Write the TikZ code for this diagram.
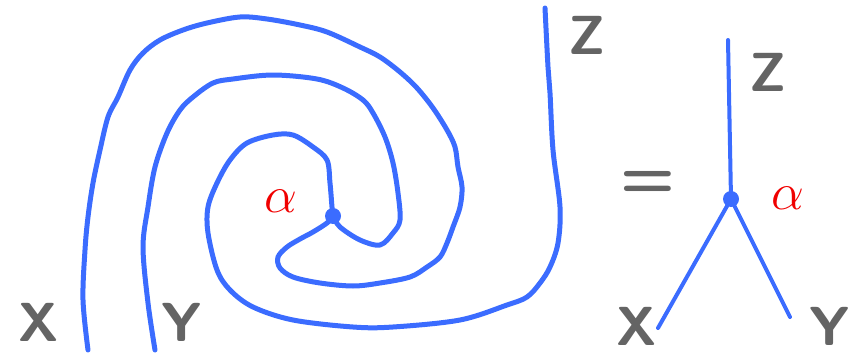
\documentclass[tikz,border=0pt]{standalone}
\usepackage{amsmath}
\usepackage{graphicx}
\usepackage{tikz}
\usepackage{xcolor}
\usetikzlibrary{calc}

\definecolor{strandblue}{RGB}{59,108,255}
\definecolor{penGray}{RGB}{100,100,100}
\definecolor{penRed}{RGB}{240,0,0}

\newcommand{\bigalpha}{\scalebox{2.1}{\Huge$\alpha$}}

\tikzset{
  strand/.style={strandblue,line width=5pt,line cap=round,line join=round},
  leg/.style={strandblue,line width=4pt,line cap=round},
  vdot/.style={circle,fill=strandblue,inner sep=0pt,minimum size=16pt},
  lbl/.style={penGray,font=\sffamily\bfseries\fontsize{55}{55}\selectfont,inner sep=0pt},
  coup/.style={penRed,inner sep=0pt}
}

\begin{document}
\begin{tikzpicture}[x=1pt,y=-1pt]
  \useasboundingbox (0,0) rectangle (866,361);

  % left: spiralled trivalent vertex
  \begin{scope}
    \coordinate (lv) at (333,216);
    \coordinate (lx) at (88,350);
    \coordinate (ly) at (155,350);
    \coordinate (lz) at (545,8);
    \draw[strand] plot[smooth,tension=0.55] coordinates {
      (lx) (83,300) (85,250) (88,217) (93,183) (100,150) (108,117) (118,97)
      (130,70) (143,53) (160,40) (183,30) (207,23) (240,17) (267,19) (300,25)
      (327,32) (360,47) (380,57) (400,72) (417,88) (433,108) (447,130)
      (455,147) (458,167) (462,187) (460,207) (453,227) (447,243) (440,257)
      (427,267) (410,277) (380,283) (353,286) (320,283) (293,277) (280,268)
      (278,257) (287,247) (300,239) (313,232) (327,223) (lv)};
    \draw[strand] plot[smooth,tension=0.55] coordinates {
      (ly) (148,303) (143,247) (148,207) (155,167) (167,133) (180,110)
      (193,97) (213,83) (233,79) (273,75) (317,79) (343,88) (363,100)
      (373,113) (385,137) (393,163) (398,193) (400,220) (393,233) (380,245)
      (360,240) (340,227) (lv)};
    \draw[strand] plot[smooth,tension=0.55] coordinates {
      (lz) (548,67) (550,93) (553,150) (560,207) (558,243) (550,267)
      (540,283) (527,297) (507,305) (460,320) (393,327) (353,327) (293,320)
      (253,307) (230,290) (217,270) (208,233) (208,207) (217,183) (230,160)
      (247,143) (273,135) (293,135) (313,147) (327,160) (330,183) (332,207)
      (lv)};
    \node[vdot] (lvd) at (lv) {};
    \node[coup] (la) at (281,201) {\bigalpha};
    \node[lbl] (lX) at (39,322) {X};
    \node[lbl] (lY) at (182,322) {Y};
    \node[lbl] (lZ) at (587,35) {Z};
  \end{scope}

  \node[lbl,font=\sffamily\bfseries\fontsize{64}{64}\selectfont] (eq) at (648,184) {=};

  % right: plain trivalent vertex
  \begin{scope}
    \coordinate (rv) at (731,199);
    \coordinate (rz) at (728,40);
    \coordinate (rx) at (658,328);
    \coordinate (ry) at (790,317);
    \draw[leg] (rv) -- (rz);
    \draw[leg] (rv) -- (rx);
    \draw[leg] (rv) -- (ry);
    \node[vdot] (rvd) at (rv) {};
    \node[coup] (ra) at (788,198) {\bigalpha};
    \node[lbl] (rX) at (637,326) {X};
    \node[lbl] (rY) at (830,326) {Y};
    \node[lbl] (rZ) at (768,72) {Z};
  \end{scope}
\end{tikzpicture}
\end{document}
